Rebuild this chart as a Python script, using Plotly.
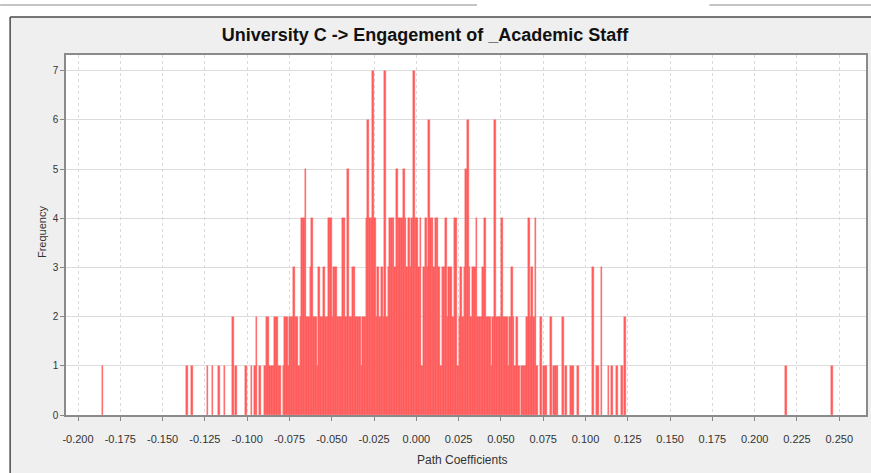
import plotly.graph_objects as go

# Bootstrap histogram of path coefficients: bins of width 0.001 starting at -0.190
bin_start = -0.190
bin_width = 0.001

# Sparse left and right tails: (bin index, frequency)
tail_bins = [4, 54, 57, 66, 69, 73, 76, 81, 83, 89, 92, 94, 95, 97, 408, 435]
tail_freq = [1, 1, 1, 1, 1, 1, 1, 2, 1, 1, 1, 1, 2, 1, 1, 1]

# Dense central block, bin indices 100..319
core_first_bin = 100
core_freq = [
    1, 2, 2, 1, 1, 1, 2, 2, 1, 1, 0, 1, 2, 2, 1, 2, 2, 3, 2, 2,
    1, 2, 4, 4, 5, 2, 2, 3, 4, 2, 2, 1, 3, 2, 2, 3, 2, 2, 4, 4,
    2, 3, 3, 2, 2, 2, 4, 4, 2, 5, 2, 2, 3, 3, 2, 2, 2, 1, 2, 2,
    4, 6, 4, 4, 7, 4, 2, 3, 2, 3, 2, 7, 2, 3, 4, 4, 4, 3, 5, 4,
    4, 4, 5, 4, 3, 4, 3, 4, 7, 4, 4, 3, 4, 1, 3, 4, 3, 6, 4, 4,
    3, 4, 4, 3, 1, 3, 3, 4, 2, 3, 3, 2, 4, 4, 1, 2, 3, 2, 3, 5,
    6, 3, 2, 3, 3, 4, 2, 2, 2, 3, 4, 2, 2, 2, 1, 2, 6, 2, 2, 2,
    4, 2, 2, 2, 1, 2, 3, 2, 1, 2, 1, 0, 1, 1, 1, 2, 4, 2, 3, 2,
    4, 1, 0, 2, 0, 1, 1, 0, 0, 2, 0, 1, 1, 1, 0, 0, 2, 0, 1, 0,
    0, 1, 1, 0, 0, 1, 0, 0, 0, 0, 0, 0, 0, 0, 3, 0, 1, 1, 0, 3,
    0, 0, 0, 1, 0, 1, 0, 0, 1, 0, 0, 1, 0, 2, 0, 0, 0, 0, 0, 0,
]

x_ticks = [-0.200, -0.175, -0.150, -0.125, -0.100, -0.075, -0.050, -0.025, 0.000,
           0.025, 0.050, 0.075, 0.100, 0.125, 0.150, 0.175, 0.200, 0.225, 0.250]
x_tick_text = ["-0.200", "-0.175", "-0.150", "-0.125", "-0.100", "-0.075", "-0.050",
               "-0.025", "0.000", "0.025", "0.050", "0.075", "0.100", "0.125",
               "0.150", "0.175", "0.200", "0.225", "0.250"]
y_ticks = [0, 1, 2, 3, 4, 5, 6, 7]

# Assemble bin centres and counts
bins = list(tail_bins) + [core_first_bin + i for i in range(len(core_freq))]
freqs = list(tail_freq) + list(core_freq)
pairs = sorted((b, f) for b, f in zip(bins, freqs) if f > 0)
centres = [bin_start + (b + 0.5) * bin_width for b, _ in pairs]
counts = [f for _, f in pairs]

BAR_RED = "#ff5c5c"

fig = go.Figure(
    go.Bar(
        x=centres,
        y=counts,
        width=bin_width,
        marker=dict(color=BAR_RED, line=dict(width=0.4, color=BAR_RED)),
        hoverinfo="x+y",
    )
)

W, H = 871, 473
ml, mr, mt, mb = 66, 3, 55, 58
pw, ph = W - ml - mr, H - mt - mb


def px_x(px):
    return (px - ml) / pw


def px_y(py):
    return (H - mb - py) / ph


fig.update_layout(
    width=W,
    height=H,
    margin=dict(l=ml, r=mr, t=mt, b=mb, pad=0),
    paper_bgcolor="#efefef",
    plot_bgcolor="white",
    bargap=0,
    showlegend=False,
    font=dict(family="Arial, Liberation Sans, sans-serif", color="#222"),
    title=dict(
        text="<b>University C -> Engagement of _Academic Staff</b>",
        x=425 / W,
        xanchor="center",
        y=1 - 35 / H,
        yanchor="middle",
        font=dict(size=18, color="#111"),
    ),
    xaxis=dict(
        range=[-0.2071, 0.2658],
        tickvals=x_ticks,
        ticktext=x_tick_text,
        ticks="outside",
        ticklen=4,
        tickcolor="#888",
        ticklabelstandoff=9,
        tickfont=dict(size=11, color="#333"),
        showgrid=True,
        gridcolor="#dadada",
        griddash="dot",
        gridwidth=1,
        showline=True,
        linecolor="#8a8a8a",
        linewidth=1.5,
        mirror=True,
        zeroline=False,
    ),
    yaxis=dict(
        range=[0, 7.32],
        tickvals=y_ticks,
        ticks="outside",
        ticklen=4,
        tickcolor="#888",
        tickfont=dict(size=10, color="#333"),
        showgrid=True,
        gridcolor="#dcdcdc",
        gridwidth=1,
        showline=True,
        linecolor="#8a8a8a",
        linewidth=1.5,
        mirror=True,
        zeroline=False,
    ),
    shapes=[
        # white page area above and left of the grey panel
        dict(type="rect", xref="paper", yref="paper", layer="below",
             x0=px_x(-5), x1=px_x(880), y0=px_y(17), y1=px_y(-5),
             fillcolor="white", line=dict(width=0)),
        dict(type="rect", xref="paper", yref="paper", layer="below",
             x0=px_x(-5), x1=px_x(10), y0=px_y(490), y1=px_y(17),
             fillcolor="white", line=dict(width=0)),
        # dark panel border on top and left
        dict(type="line", xref="paper", yref="paper", layer="below",
             x0=px_x(10), x1=px_x(880), y0=px_y(17), y1=px_y(17),
             line=dict(color="#4a4a4a", width=1.5)),
        dict(type="line", xref="paper", yref="paper", layer="below",
             x0=px_x(10), x1=px_x(10), y0=px_y(17), y1=px_y(490),
             line=dict(color="#4a4a4a", width=1.5)),
        # light separator lines above the panel
        dict(type="line", xref="paper", yref="paper", layer="below",
             x0=px_x(0), x1=px_x(478), y0=px_y(5), y1=px_y(5),
             line=dict(color="#c4c4c4", width=2)),
        dict(type="line", xref="paper", yref="paper", layer="below",
             x0=px_x(711), x1=px_x(880), y0=px_y(5), y1=px_y(5),
             line=dict(color="#c4c4c4", width=2)),
    ],
    annotations=[
        dict(text="Frequency", xref="paper", yref="paper",
             x=px_x(42), y=px_y(232), textangle=-90, showarrow=False,
             xanchor="center", yanchor="middle", font=dict(size=11, color="#333")),
        dict(text="Path Coefficients", xref="paper", yref="paper",
             x=px_x(463), y=px_y(460), showarrow=False,
             xanchor="center", yanchor="middle", font=dict(size=12, color="#333")),
    ],
)

fig.write_html("out.html")
